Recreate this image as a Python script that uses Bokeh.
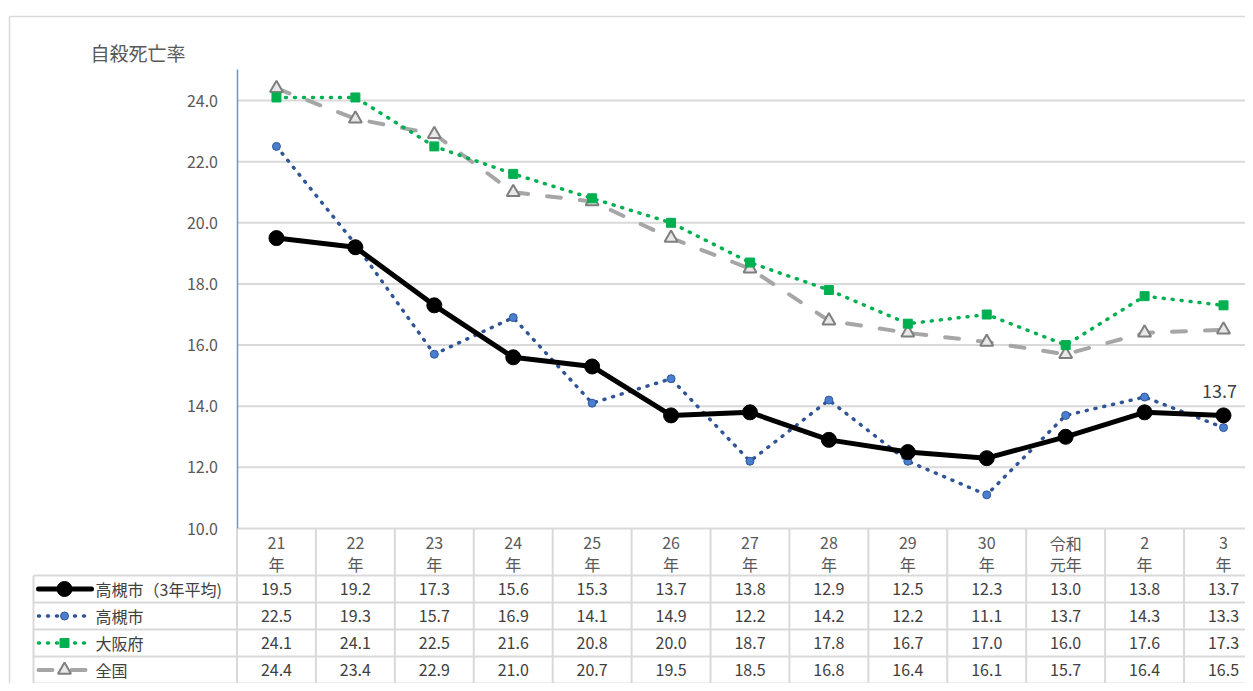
from bokeh.plotting import figure
from bokeh.models import Range1d, FixedTicker, NumeralTickFormatter
from bokeh.embed import file_html
from bokeh.resources import INLINE
from bokeh.core.properties import value

# ---------------- data ----------------
categories = ["21\n年", "22\n年", "23\n年", "24\n年", "25\n年", "26\n年", "27\n年",
              "28\n年", "29\n年", "30\n年", "令和\n元年", "2\n年", "3\n年"]
takatsuki_avg = [19.5, 19.2, 17.3, 15.6, 15.3, 13.7, 13.8, 12.9, 12.5, 12.3, 13.0, 13.8, 13.7]
takatsuki = [22.5, 19.3, 15.7, 16.9, 14.1, 14.9, 12.2, 14.2, 12.2, 11.1, 13.7, 14.3, 13.3]
osaka = [24.1, 24.1, 22.5, 21.6, 20.8, 20.0, 18.7, 17.8, 16.7, 17.0, 16.0, 17.6, 17.3]
national = [24.4, 23.4, 22.9, 21.0, 20.7, 19.5, 18.5, 16.8, 16.4, 16.1, 15.7, 16.4, 16.5]
series_names = ["高槻市（3年平均)", "高槻市", "大阪府", "全国"]
y_ticks = [10, 12, 14, 16, 18, 20, 22, 24]
y_min, y_max = 10, 25
y_title = "自殺死亡率"

# ---------------- layout constants (page pixels) ----------------
FONT = "Noto Sans CJK JP"
GRID = "#d9d9d9"
TXT = "#404040"
LBL = "#595959"
FIG_X0, FIG_Y0 = 0, 0
FIG_W, FIG_H = 1245, 683
CAT_W = 78.92            # px per category
AXIS_PX = 236.5          # page x of plot-area left edge
Y_SCALE = 30.57          # px per unit of rate
BASE_PY = 528            # page y of y = y_min
HEAD_H = 47
ROW_H = 27
N_CAT = len(categories)
X_IDX = list(range(N_CAT))


def px_to_x(px):
    return -0.5 + (px - AXIS_PX) / CAT_W


def py_to_y(py):
    return y_min + (BASE_PY - py) / Y_SCALE


X_LEFT, X_RIGHT = px_to_x(FIG_X0), px_to_x(FIG_X0 + FIG_W)
Y_BOTTOM, Y_TOP = py_to_y(FIG_Y0 + FIG_H), py_to_y(FIG_Y0)
X_END = N_CAT - 0.5

styles = [
    dict(line=dict(line_color="black", line_width=5, line_cap="round", line_join="round"),
         marker=dict(marker="circle", size=15, fill_color="black", line_color="black")),
    dict(line=dict(line_color="#2f5597", line_width=3.5, line_dash="1 8", line_cap="round"),
         marker=dict(marker="circle", size=8, fill_color="#4a7fd0", line_color="#2f5597", line_width=1)),
    dict(line=dict(line_color="#00b050", line_width=3.5, line_dash="1 8", line_cap="round"),
         marker=dict(marker="square", size=9, fill_color="#00b050", line_color="#00b050")),
    dict(line=dict(line_color="#a6a6a6", line_width=4, line_dash="14 19", line_cap="round"),
         marker=dict(marker="triangle", size=13, fill_color="#e8e8e8", line_color="#7f7f7f", line_width=2)),
]
all_series = [takatsuki_avg, takatsuki, osaka, national]

p = figure(width=FIG_W, height=FIG_H,
           x_range=Range1d(X_LEFT, X_RIGHT), y_range=Range1d(Y_BOTTOM, Y_TOP),
           x_axis_location=None, y_axis_location="left",
           output_backend="svg", toolbar_location=None, min_border=0)
p.outline_line_color = None
p.background_fill_color = "white"
p.border_fill_color = "white"
p.grid.visible = False

# y axis fixed at the plot-area left edge
ya = p.yaxis[0]
ya.fixed_location = -0.5
ya.bounds = (y_min, y_max)
ya.ticker = FixedTicker(ticks=y_ticks)
ya.formatter = NumeralTickFormatter(format="0.0")
ya.axis_line_color = "#5b9bd5"
ya.axis_line_width = 1.5
ya.major_tick_line_color = None
ya.minor_tick_line_color = None
ya.major_label_standoff = 13
ya.major_label_text_font = FONT
ya.major_label_text_font_size = "16px"
ya.major_label_text_color = LBL

# outer frame (top + left edges)
p.segment(x0=[px_to_x(9), px_to_x(9)], y0=[py_to_y(16), py_to_y(16)],
          x1=[X_RIGHT + 1, px_to_x(9)], y1=[py_to_y(16), Y_BOTTOM - 1],
          line_color=GRID, line_width=1.5)

# horizontal grid lines (plot area only)
p.segment(x0=[-0.5] * len(y_ticks), y0=y_ticks, x1=[X_END] * len(y_ticks), y1=y_ticks,
          line_color=GRID, line_width=2)

# title
p.text(x=[px_to_x(90)], y=[py_to_y(52)], text=[y_title], text_align="left", text_baseline="middle",
       text_font=value(FONT), text_font_size=value("19px"), text_color=LBL)

# series
for idx in [3, 2, 1, 0]:
    st = styles[idx]
    p.line(X_IDX, all_series[idx], **st["line"])
    p.scatter(X_IDX, all_series[idx], **st["marker"])

p.text(x=[X_IDX[-1]], y=[takatsuki_avg[-1]], text=[f"{takatsuki_avg[-1]:.1f}"],
       x_offset=-4, y_offset=-24, text_align="center", text_baseline="middle",
       text_font=value(FONT), text_font_size=value("18px"), text_color=TXT)

# ---------------- data table ----------------
head_bottom = py_to_y(BASE_PY + HEAD_H)
n_rows = len(all_series)
row_top = [py_to_y(BASE_PY + HEAD_H + r * ROW_H) for r in range(n_rows + 1)]
row_mid = [py_to_y(BASE_PY + HEAD_H + (r + 0.5) * ROW_H) for r in range(n_rows)]
tbl_left = px_to_x(33)
tbl_bottom = row_top[n_rows]

# horizontal rule lines of the data rows
p.segment(x0=[tbl_left] * (n_rows + 1), y0=row_top, x1=[X_END] * (n_rows + 1), y1=row_top,
          line_color=GRID, line_width=2)
# vertical lines (header + data rows)
vx = [i - 0.5 for i in range(N_CAT + 1)]
p.segment(x0=vx, y0=[y_min] * len(vx), x1=vx, y1=[tbl_bottom] * len(vx),
          line_color=GRID, line_width=2)
p.segment(x0=[tbl_left], y0=[head_bottom], x1=[tbl_left], y1=[tbl_bottom],
          line_color=GRID, line_width=2)

# header labels (two lines)
line1 = [c.split("\n")[0] for c in categories]
line2 = [c.split("\n")[1] for c in categories]
p.text(x=X_IDX, y=[py_to_y(BASE_PY + 14)] * N_CAT, text=line1, text_align="center",
       text_baseline="middle", text_font=value(FONT), text_font_size=value("16px"), text_color=LBL)
p.text(x=X_IDX, y=[py_to_y(BASE_PY + 35)] * N_CAT, text=line2, text_align="center",
       text_baseline="middle", text_font=value(FONT), text_font_size=value("16px"), text_color=LBL)

for r, (name, ser) in enumerate(zip(series_names, all_series)):
    st = styles[r]
    yc = row_mid[r]
    p.line([px_to_x(38), px_to_x(91)], [yc, yc], **st["line"])
    p.scatter([px_to_x(64)], [yc], **st["marker"])
    p.text(x=[px_to_x(95)], y=[yc], text=[name], text_align="left", text_baseline="middle",
           text_font=value(FONT), text_font_size=value("16px"), text_color=TXT)
    p.text(x=X_IDX, y=[yc] * len(ser), text=[f"{v:.1f}" for v in ser],
           text_align="center", text_baseline="middle",
           text_font=value(FONT), text_font_size=value("16px"), text_color=TXT)

open("out.html", "w").write(file_html(p, INLINE))
